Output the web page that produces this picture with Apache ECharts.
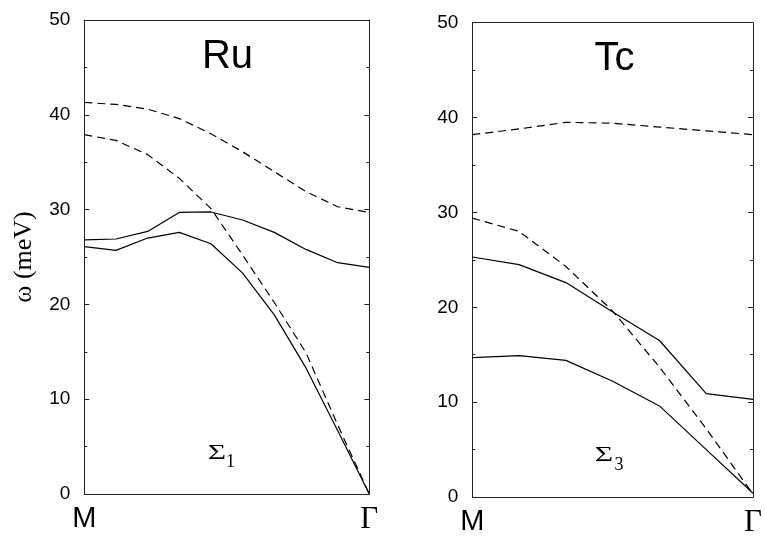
<!DOCTYPE html>
<html>
<head>
<meta charset="utf-8">
<script src="https://cdn.jsdelivr.net/npm/echarts@6/dist/echarts.min.js"></script>
<style>html,body{margin:0;padding:0;background:#fff}#c{width:765px;height:539px}</style>
</head>
<body>
<div id="c"></div>
<script>
// k-point index along M -> Gamma
var ruK = [0, 1, 2, 3, 4, 5, 6, 7, 8, 9];
var tcK = [0, 1, 2, 3, 4, 5, 6];
// Ru (Sigma_1) branches, meV
var ruSolidUpper = [26.8, 26.9, 27.7, 29.7, 29.75, 28.9, 27.6, 25.8, 24.4, 23.9];
var ruSolidLower = [26.1, 25.7, 27.0, 27.6, 26.4, 23.3, 18.9, 13.3, 6.7, 0];
var ruDashUpper = [41.3, 41.1, 40.6, 39.6, 38.0, 36.1, 34.0, 31.9, 30.3, 29.7];
var ruDashLower = [37.9, 37.3, 35.8, 33.3, 30.1, 25.2, 20.2, 14.9, 7.3, 0];
// Tc (Sigma_3) branches, meV
var tcSolidUpper = [25.3, 24.5, 22.6, 19.5, 16.5, 10.9, 10.3];
var tcSolidLower = [14.7, 14.9, 14.4, 12.2, 9.6, 5.0, 0.4];
var tcDashUpper = [38.2, 38.8, 39.5, 39.4, 39.0, 38.6, 38.2];
var tcDashLower = [29.4, 28.0, 24.3, 19.6, 13.7, 7.2, 0.3];
// tick labels / texts
var xTickLabels = ['M', 'Γ'];
var yTicks = [0, 10, 20, 30, 40, 50];
var yName = 'ω (meV)';
var panelTitles = ['Ru', 'Tc'];
var branchLabels = [['Σ', '1'], ['Σ', '3']];

var chart = echarts.init(document.getElementById('c'));
var SANS = 'Liberation Sans, Arial, sans-serif';
var SERIF = 'Liberation Serif, Times New Roman, serif';
var AX = '#222';

function pairs(k, v) { return k.map(function (x, i) { return [x, v[i]]; }); }

function xAxes(gi, maxK) {
  return [{
    type: 'value', gridIndex: gi, min: 0, max: maxK, interval: maxK,
    axisLine: { show: true, onZero: false, lineStyle: { color: AX, width: 1 } },
    axisTick: { show: false }, splitLine: { show: false },
    axisLabel: {
      margin: 10,
      formatter: function (v) { return v === 0 ? '{m|' + xTickLabels[0] + '}' : '{g|' + xTickLabels[1] + '}'; },
      rich: {
        m: { fontFamily: SANS, fontSize: 29, color: '#000' },
        g: { fontFamily: SERIF, fontSize: 31, color: '#000' }
      }
    }
  }, {
    type: 'value', gridIndex: gi, position: 'top', min: 0, max: maxK,
    axisLine: { show: true, onZero: false, lineStyle: { color: AX, width: 1 } },
    axisTick: { show: false }, axisLabel: { show: false }, splitLine: { show: false }
  }];
}
function yAxes(gi, withName) {
  var base = {
    type: 'value', gridIndex: gi, min: yTicks[0], max: yTicks[yTicks.length - 1], interval: 10,
    axisLine: { show: true, onZero: false, lineStyle: { color: AX, width: 1 } },
    axisTick: { show: true, inside: true, length: 5, lineStyle: { color: AX } },
    minorTick: { show: true, splitNumber: 2, length: 3, lineStyle: { color: AX } },
    splitLine: { show: false }, minorSplitLine: { show: false }
  };
  var left = Object.assign({}, base, {
    position: 'left',
    axisLabel: { show: true, margin: 14, fontFamily: SANS, fontSize: 19, color: '#000' }
  });
  if (withName) {
    left.name = yName;
    left.nameLocation = 'middle';
    left.nameRotate = 90;
    left.nameGap = 47;
    left.nameTextStyle = { fontFamily: SERIF, fontSize: 26, color: '#000' };
  }
  var right = Object.assign({}, base, { position: 'right', axisLabel: { show: false } });
  return [left, right];
}
function line(xi, yi, k, v, dashed) {
  return {
    type: 'line', xAxisIndex: xi, yAxisIndex: yi, data: pairs(k, v),
    showSymbol: false, symbol: 'none', silent: true,
    lineStyle: { color: '#000', width: 1.2, type: dashed ? [8, 5] : 'solid' }
  };
}
function txt(x, y, s, fam, size, sx) {
  return { type: 'text', x: x, y: y, scaleX: sx || 1, silent: true,
    style: { text: s, fontFamily: fam, fontSize: size, fill: '#000', align: 'center', verticalAlign: 'middle' } };
}

var option = {
  animation: false,
  backgroundColor: '#fff',
  grid: [
    { left: 84.3, top: 20, width: 285, height: 474 },
    { left: 472.3, top: 22.7, width: 285, height: 474.3 }
  ],
  xAxis: xAxes(0, 9).concat(xAxes(1, 6)),
  yAxis: yAxes(0, true).concat(yAxes(1, false)),
  series: [
    line(0, 0, ruK, ruSolidUpper, false),
    line(0, 0, ruK, ruSolidLower, false),
    line(0, 0, ruK, ruDashUpper, true),
    line(0, 0, ruK, ruDashLower, true),
    line(2, 2, tcK, tcSolidUpper, false),
    line(2, 2, tcK, tcSolidLower, false),
    line(2, 2, tcK, tcDashUpper, true),
    line(2, 2, tcK, tcDashLower, true)
  ],
  graphic: [
    txt(227.5, 57, panelTitles[0], SANS, 40),
    txt(614.5, 59, panelTitles[1], SANS, 40),
    txt(217, 453, branchLabels[0][0], SERIF, 21, 1.5),
    txt(230.5, 462, branchLabels[0][1], SERIF, 18),
    txt(604, 455, branchLabels[1][0], SERIF, 21, 1.5),
    txt(619, 465, branchLabels[1][1], SERIF, 18)
  ]
};
chart.setOption(option);
</script>
</body>
</html>
